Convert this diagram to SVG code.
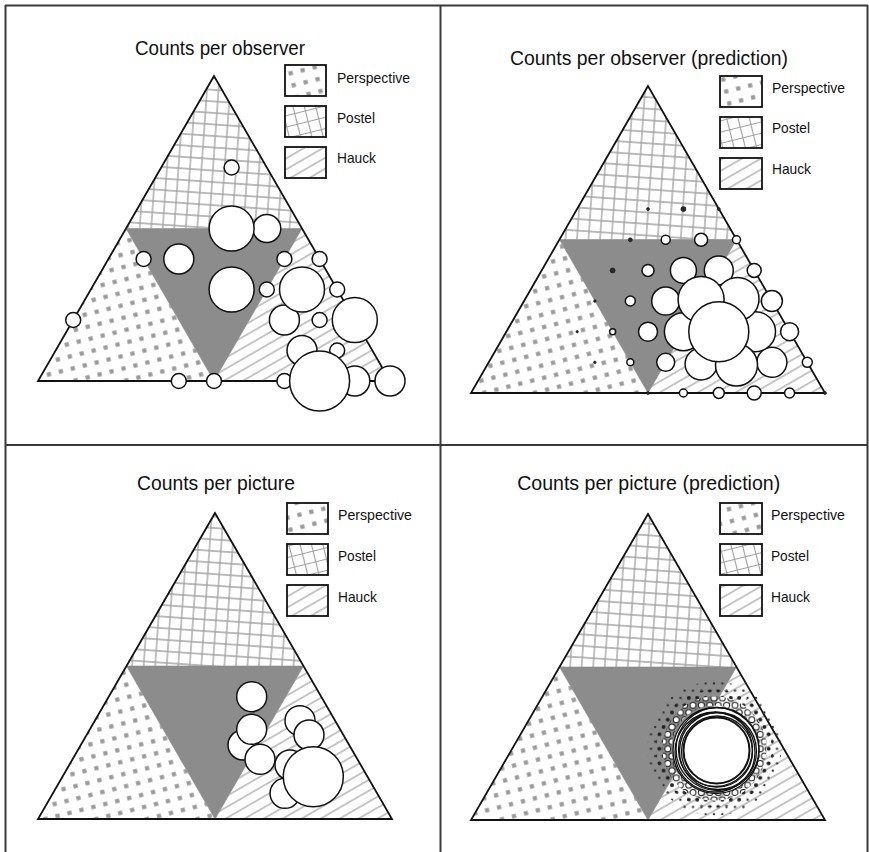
<svg xmlns="http://www.w3.org/2000/svg" width="869" height="852" viewBox="0 0 869 852">
<style>
.tri{fill:none;stroke:#111;stroke-width:1.8;stroke-linejoin:miter}
.gray{fill:#8c8c8c;stroke:#8c8c8c;stroke-width:0.6}
.c{fill:#fff;stroke:#111;stroke-width:1.5}
.d{fill:#2a2a2a;stroke:#111;stroke-width:0.6}
.box{stroke:#111;stroke-width:1.8}
.title{font-family:'Liberation Sans',Arial,sans-serif;font-size:20px;fill:#111}
.lab{font-family:'Liberation Sans',Arial,sans-serif;font-size:15px;fill:#111}
.frame{fill:none;stroke:#3a3a3a;stroke-width:2}
.ring{fill:none;stroke:#111;stroke-width:1.3}
.ringw{fill:#fff;stroke:#111;stroke-width:1.3}
.ringi{fill:#fff;stroke:#111;stroke-width:2}
</style>
<defs>
<pattern id="persp" patternUnits="userSpaceOnUse" width="12.3" height="12.3" patternTransform="rotate(-14)">
<rect x="4" y="4" width="4.2" height="4.2" fill="#999"/>
</pattern>
<pattern id="postel" patternUnits="userSpaceOnUse" width="11.5" height="11.5" patternTransform="rotate(4)">
<path d="M5.75 0V11.5M0 5.75H11.5" stroke="#a2a2a2" stroke-width="1.3"/>
</pattern>
<pattern id="postelL" patternUnits="userSpaceOnUse" width="11" height="11" patternTransform="rotate(-14)">
<path d="M5.5 0V11M0 5.5H11" stroke="#a2a2a2" stroke-width="1.2"/>
</pattern>
<pattern id="hauck" patternUnits="userSpaceOnUse" width="10" height="9.5" patternTransform="rotate(-30)">
<path d="M0 4.75H10" stroke="#a2a2a2" stroke-width="1.2"/>
</pattern>
<pattern id="ringA" patternUnits="userSpaceOnUse" width="8.4" height="14.54">
<g fill="#fff" stroke="#111" stroke-width="1">
<circle cx="0" cy="0" r="3"/><circle cx="8.4" cy="0" r="3"/><circle cx="0" cy="14.54" r="3"/><circle cx="8.4" cy="14.54" r="3"/><circle cx="4.2" cy="7.27" r="3"/>
</g>
</pattern>
<pattern id="ringB" patternUnits="userSpaceOnUse" width="8.4" height="14.54">
<g fill="#222">
<circle cx="0" cy="0" r="2"/><circle cx="8.4" cy="0" r="2"/><circle cx="0" cy="14.54" r="2"/><circle cx="8.4" cy="14.54" r="2"/><circle cx="4.2" cy="7.27" r="2"/>
</g>
</pattern>
<pattern id="ringC" patternUnits="userSpaceOnUse" width="8.4" height="14.54">
<g fill="#333">
<circle cx="0" cy="0" r="1.2"/><circle cx="8.4" cy="0" r="1.2"/><circle cx="0" cy="14.54" r="1.2"/><circle cx="8.4" cy="14.54" r="1.2"/><circle cx="4.2" cy="7.27" r="1.2"/>
</g>
</pattern>
</defs>
<rect width="869" height="852" fill="#fff"/>
<g id="frame" class="frame">
<path d="M5 5.5H868M5.5 5V852M867.5 5V852M440.5 5V852M5 445H868"/>
</g>

<g id="panel1">
<text class="title" x="220" y="55" text-anchor="middle" textLength="170" lengthAdjust="spacingAndGlyphs">Counts per observer</text>
<polygon points="214,76 126,228.5 302,228.5" fill="url(#postel)"/>
<polygon points="126,228.5 38,381 214,381" fill="url(#persp)"/>
<polygon points="302,228.5 214,381 390,381" fill="url(#hauck)"/>
<polygon class="gray" points="126,228.5 302,228.5 214,381"/>
<polygon class="tri" points="214,76 38,381 390,381"/>
<g id="p1-circles">
<circle class="c" cx="178.8" cy="381" r="7.5"/>
<circle class="c" cx="214" cy="381" r="7.5"/>
<circle class="c" cx="284.4" cy="381" r="7.5"/>
<circle class="c" cx="337.2" cy="350.5" r="7.5"/>
<circle class="c" cx="73.2" cy="320" r="7.5"/>
<circle class="c" cx="319.6" cy="320" r="7.5"/>
<circle class="c" cx="266.8" cy="289.5" r="7.5"/>
<circle class="c" cx="337.2" cy="289.5" r="7.5"/>
<circle class="c" cx="143.6" cy="259" r="7.5"/>
<circle class="c" cx="284.4" cy="259" r="7.5"/>
<circle class="c" cx="319.6" cy="259" r="7.5"/>
<circle class="c" cx="231.6" cy="167.5" r="7.5"/>
<circle class="c" cx="266.8" cy="228.5" r="14"/>
<circle class="c" cx="354.8" cy="381" r="15"/>
<circle class="c" cx="390" cy="381" r="15"/>
<circle class="c" cx="302" cy="350.5" r="15"/>
<circle class="c" cx="284.4" cy="320" r="15"/>
<circle class="c" cx="178.8" cy="259" r="15"/>
<circle class="c" cx="354.8" cy="320" r="22.5"/>
<circle class="c" cx="231.6" cy="289.5" r="22.5"/>
<circle class="c" cx="302" cy="289.5" r="22.5"/>
<circle class="c" cx="231.6" cy="228.5" r="22.5"/>
<circle class="c" cx="319.6" cy="381" r="30"/>
</g>
<g id="p1-legend">
<rect class="box" x="285" y="65" width="41" height="31" fill="url(#persp)"/>
<rect class="box" x="285" y="106" width="41" height="31" fill="url(#postelL)"/>
<rect class="box" x="285" y="147" width="41" height="31" fill="url(#hauck)"/>
<text class="lab" x="337" y="82.5" textLength="73" lengthAdjust="spacingAndGlyphs">Perspective</text>
<text class="lab" x="337" y="122.5" textLength="38" lengthAdjust="spacingAndGlyphs">Postel</text>
<text class="lab" x="337" y="163" textLength="39" lengthAdjust="spacingAndGlyphs">Hauck</text>
</g>
</g>

<g id="panel2">
<text class="title" x="649" y="65" text-anchor="middle" textLength="278" lengthAdjust="spacingAndGlyphs">Counts per observer (prediction)</text>
<polygon points="648,86 559.5,239.5 736.5,239.5" fill="url(#postel)"/>
<polygon points="559.5,239.5 471,393 648,393" fill="url(#persp)"/>
<polygon points="736.5,239.5 648,393 825,393" fill="url(#hauck)"/>
<polygon class="gray" points="559.5,239.5 736.5,239.5 648,393"/>
<polygon class="tri" points="648,86 471,393 825,393"/>
<g id="p2-circles">
<circle class="d" cx="648" cy="393" r="1.5"/>
<circle class="d" cx="825" cy="393" r="1.5"/>
<circle class="d" cx="594.9" cy="362.35" r="1.3"/>
<circle class="d" cx="577.2" cy="331.7" r="1.2"/>
<circle class="d" cx="594.9" cy="301.05" r="1.3"/>
<circle class="d" cx="612.6" cy="270.4" r="2.5"/>
<circle class="d" cx="630.3" cy="239.75" r="2"/>
<circle class="d" cx="648" cy="209.1" r="1.5"/>
<circle class="d" cx="683.4" cy="209.1" r="2.5"/>
<circle class="d" cx="718.8" cy="209.1" r="1.5"/>
<circle class="c" cx="612.6" cy="331.7" r="3"/>
<circle class="c" cx="630.3" cy="362.35" r="3.5"/>
<circle class="c" cx="683.4" cy="393" r="4"/>
<circle class="c" cx="736.5" cy="239.75" r="4"/>
<circle class="c" cx="665.7" cy="239.75" r="4.5"/>
<circle class="c" cx="789.6" cy="393" r="5"/>
<circle class="c" cx="630.3" cy="301.05" r="5"/>
<circle class="c" cx="807.3" cy="362.35" r="5"/>
<circle class="c" cx="718.8" cy="393" r="5.5"/>
<circle class="c" cx="648" cy="270.4" r="6"/>
<circle class="c" cx="701.1" cy="239.75" r="6.5"/>
<circle class="c" cx="754.2" cy="393" r="7"/>
<circle class="c" cx="754.2" cy="270.4" r="7"/>
<circle class="c" cx="665.7" cy="362.35" r="9"/>
<circle class="c" cx="789.6" cy="331.7" r="9"/>
<circle class="c" cx="648" cy="331.7" r="9.5"/>
<circle class="c" cx="771.9" cy="301.05" r="10.5"/>
<circle class="c" cx="683.4" cy="270.4" r="13"/>
<circle class="c" cx="665.7" cy="301.05" r="14"/>
<circle class="c" cx="718.8" cy="270.4" r="14.5"/>
<circle class="c" cx="771.9" cy="362.35" r="15"/>
<circle class="c" cx="701.1" cy="364" r="16"/>
<circle class="c" cx="683.4" cy="331.7" r="19"/>
<circle class="c" cx="755.5" cy="331.7" r="20"/>
<circle class="c" cx="736.5" cy="365" r="21"/>
<circle class="c" cx="737.5" cy="299" r="21.5"/>
<circle class="c" cx="701.1" cy="299.5" r="23"/>
<circle class="c" cx="718.8" cy="331.7" r="30"/>
</g>
<g id="p2-legend">
<rect class="box" x="720" y="76" width="42" height="31" fill="url(#persp)"/>
<rect class="box" x="720" y="117" width="42" height="31" fill="url(#postelL)"/>
<rect class="box" x="720" y="158" width="42" height="31" fill="url(#hauck)"/>
<text class="lab" x="772" y="93" textLength="73" lengthAdjust="spacingAndGlyphs">Perspective</text>
<text class="lab" x="772" y="133" textLength="38" lengthAdjust="spacingAndGlyphs">Postel</text>
<text class="lab" x="772" y="174" textLength="39" lengthAdjust="spacingAndGlyphs">Hauck</text>
</g>
</g>

<g id="panel3">
<text class="title" x="216" y="490" text-anchor="middle" textLength="158" lengthAdjust="spacingAndGlyphs">Counts per picture</text>
<polygon points="215,513 126.5,666 303.5,666" fill="url(#postel)"/>
<polygon points="126.5,666 38,819 215,819" fill="url(#persp)"/>
<polygon points="303.5,666 215,819 392,819" fill="url(#hauck)"/>
<polygon class="gray" points="126.5,666 303.5,666 215,819"/>
<polygon class="tri" points="215,513 38,819 392,819"/>
<g id="p3-circles">
<circle class="c" cx="243" cy="745" r="15"/>
<circle class="c" cx="251.7" cy="696.7" r="15"/>
<circle class="c" cx="251.7" cy="729.3" r="15"/>
<circle class="c" cx="260" cy="759.3" r="15"/>
<circle class="c" cx="300" cy="720.7" r="15"/>
<circle class="c" cx="309" cy="735" r="15"/>
<circle class="c" cx="290" cy="765" r="15"/>
<circle class="c" cx="285" cy="793.3" r="15"/>
<circle class="c" cx="313.3" cy="776.7" r="30"/>
</g>
<g id="p3-legend">
<rect class="box" x="287" y="503" width="41" height="31" fill="url(#persp)"/>
<rect class="box" x="287" y="544" width="41" height="31" fill="url(#postelL)"/>
<rect class="box" x="287" y="585" width="41" height="31" fill="url(#hauck)"/>
<text class="lab" x="338" y="520" textLength="74" lengthAdjust="spacingAndGlyphs">Perspective</text>
<text class="lab" x="338" y="561" textLength="38" lengthAdjust="spacingAndGlyphs">Postel</text>
<text class="lab" x="338" y="602" textLength="39" lengthAdjust="spacingAndGlyphs">Hauck</text>
</g>
</g>

<g id="panel4">
<text class="title" x="648.7" y="490" text-anchor="middle" textLength="263" lengthAdjust="spacingAndGlyphs">Counts per picture (prediction)</text>
<polygon points="648,514 559.5,667 736.5,667" fill="url(#postel)"/>
<polygon points="559.5,667 471,820 648,820" fill="url(#persp)"/>
<polygon points="736.5,667 648,820 825,820" fill="url(#hauck)"/>
<polygon class="gray" points="559.5,667 736.5,667 648,820"/>
<polygon class="tri" points="648,514 471,820 825,820"/>
<g id="p4-rings">
<path fill="url(#ringC)" fill-rule="evenodd" d="M647.5,748.5a67,67 0 1,0 134,0a67,67 0 1,0 -134,0ZM655.5,748.5a59,59 0 1,0 118,0a59,59 0 1,0 -118,0Z"/>
<path fill="url(#ringB)" fill-rule="evenodd" d="M655.5,748.5a59,59 0 1,0 118,0a59,59 0 1,0 -118,0ZM662.5,748.5a52,52 0 1,0 104,0a52,52 0 1,0 -104,0Z"/>
<path fill="url(#ringA)" fill-rule="evenodd" d="M662.5,748.5a52,52 0 1,0 104,0a52,52 0 1,0 -104,0ZM671.5,748.5a43,43 0 1,0 86,0a43,43 0 1,0 -86,0Z"/>
<circle class="ringw" cx="716" cy="750.5" r="43"/>
<circle class="ring" cx="717.5" cy="749" r="41.5"/>
<circle class="ring" cx="715" cy="752" r="40"/>
<circle class="ring" cx="718" cy="751" r="38.5"/>
<circle class="ring" cx="715.5" cy="749.5" r="37"/>
<circle class="ring" cx="717" cy="751.5" r="35.5"/>
<circle class="ringi" cx="716.5" cy="750.5" r="33"/>
</g>
<g id="p4-legend">
<rect class="box" x="720" y="503" width="42" height="31" fill="url(#persp)"/>
<rect class="box" x="720" y="544" width="42" height="31" fill="url(#postelL)"/>
<rect class="box" x="720" y="585" width="42" height="31" fill="url(#hauck)"/>
<text class="lab" x="771" y="520" textLength="74" lengthAdjust="spacingAndGlyphs">Perspective</text>
<text class="lab" x="771" y="561" textLength="38" lengthAdjust="spacingAndGlyphs">Postel</text>
<text class="lab" x="771" y="602" textLength="39" lengthAdjust="spacingAndGlyphs">Hauck</text>
</g>
</g>
</svg>
